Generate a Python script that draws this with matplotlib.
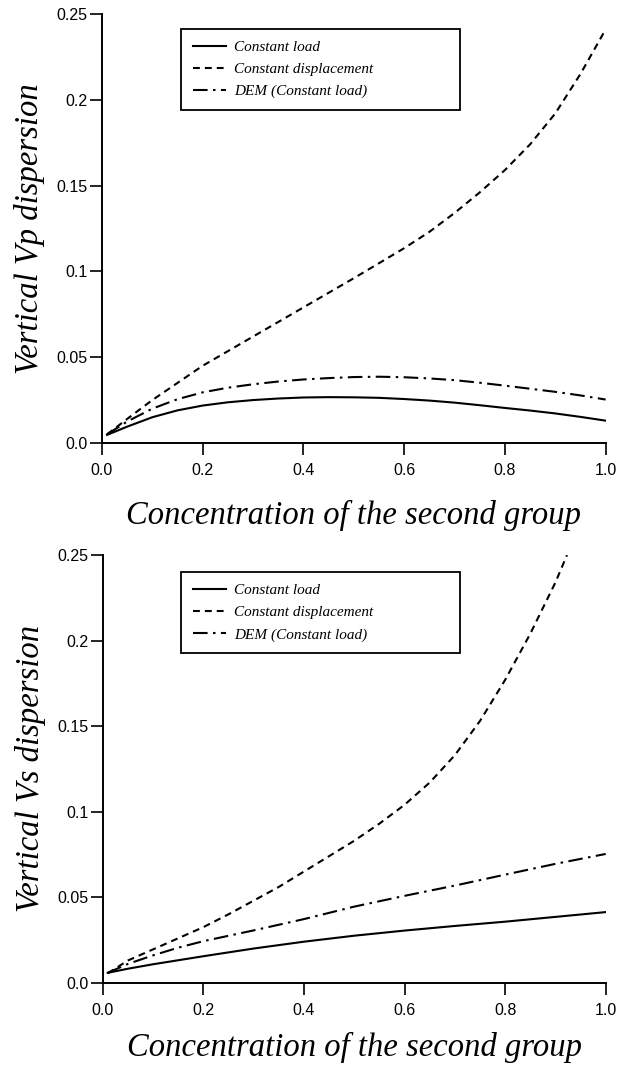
import matplotlib
matplotlib.use("Agg")
import matplotlib.pyplot as plt
import numpy as np

# ---- data ----
# upper panel: vertical Vp dispersion
vp_x_load = [0.01, 0.05, 0.1, 0.15, 0.2, 0.25, 0.3, 0.35, 0.4, 0.45, 0.5, 0.55, 0.6,
             0.65, 0.7, 0.75, 0.8, 0.85, 0.9, 0.95, 1.0]
vp_load = [0.0047, 0.0095, 0.0150, 0.0190, 0.0218, 0.0237, 0.0250, 0.0259, 0.0265, 0.0267,
           0.0266, 0.0263, 0.0256, 0.0247, 0.0235, 0.0220, 0.0204, 0.0189, 0.0172, 0.0152, 0.0130]

vp_x_disp = [0.01, 0.05, 0.1, 0.15, 0.2, 0.3, 0.4, 0.5, 0.6, 0.65, 0.7, 0.75, 0.8, 0.85,
             0.9, 0.95, 1.0]
vp_disp = [0.005, 0.014, 0.025, 0.035, 0.045, 0.062, 0.079, 0.096, 0.1135, 0.123, 0.134,
           0.146, 0.159, 0.174, 0.192, 0.215, 0.241]

vp_x_dem = [0.01, 0.05, 0.1, 0.15, 0.2, 0.25, 0.3, 0.35, 0.4, 0.45, 0.5, 0.55, 0.6,
            0.65, 0.7, 0.75, 0.8, 0.85, 0.9, 0.95, 1.0]
vp_dem = [0.005, 0.0125, 0.0200, 0.0255, 0.0295, 0.0322, 0.0342, 0.0358, 0.0370, 0.0378,
          0.0384, 0.0386, 0.0383, 0.0376, 0.0366, 0.0351, 0.0334, 0.0316, 0.0298, 0.0277, 0.0253]

# lower panel: vertical Vs dispersion
vs_x_load = [0.01, 0.05, 0.1, 0.2, 0.3, 0.4, 0.5, 0.6, 0.7, 0.8, 0.9, 1.0]
vs_load = [0.0058, 0.0082, 0.0108, 0.0155, 0.0200, 0.0240, 0.0275, 0.0305, 0.0332, 0.0357,
           0.0385, 0.0413]

vs_x_disp = [0.01, 0.05, 0.1, 0.15, 0.2, 0.25, 0.3, 0.35, 0.4, 0.45, 0.5, 0.55, 0.6,
             0.65, 0.7, 0.75, 0.8, 0.85, 0.9, 0.923]
vs_disp = [0.0055, 0.013, 0.0195, 0.026, 0.0325, 0.040, 0.048, 0.056, 0.065, 0.074, 0.083,
           0.093, 0.104, 0.117, 0.133, 0.153, 0.177, 0.204, 0.234, 0.25]

vs_x_dem = [0.01, 0.05, 0.1, 0.15, 0.2, 0.3, 0.4, 0.5, 0.6, 0.7, 0.8, 0.9, 1.0]
vs_dem = [0.0058, 0.011, 0.016, 0.0205, 0.0243, 0.0306, 0.0372, 0.0445, 0.0508, 0.0568,
          0.0632, 0.0695, 0.0753]

labels = ["Constant load", "Constant displacement", "DEM (Constant load)"]
xticks = [0.0, 0.2, 0.4, 0.6, 0.8, 1.0]
xtick_labels = ["0.0", "0.2", "0.4", "0.6", "0.8", "1.0"]
yticks = [0.0, 0.05, 0.1, 0.15, 0.2, 0.25]
ytick_labels = ["0.0", "0.05", "0.1", "0.15", "0.2", "0.25"]

dash = (0, (3.3, 2.4))
dashdot = (0, (7, 2.6, 1.2, 2.6))

fig = plt.figure(figsize=(6.18, 10.71), dpi=100)
ax1 = fig.add_axes([0.165, 0.5864, 0.815, 0.4006])
ax2 = fig.add_axes([0.1662, 0.0824, 0.8139, 0.3993])

panels = [
    (ax1, "Vertical Vp dispersion",
     (vp_x_load, vp_load), (vp_x_disp, vp_disp), (vp_x_dem, vp_dem), -0.17, (0.157, 0.965)),
    (ax2, "Vertical Vs dispersion",
     (vs_x_load, vs_load), (vs_x_disp, vs_disp), (vs_x_dem, vs_dem), -0.152, (0.156, 0.960)),
]

for ax, ylab, load, disp, dem, xlab_y, leg_xy in panels:
    ax.plot(load[0], load[1], color="black", lw=1.5, ls="-", label=labels[0])
    ax.plot(disp[0], disp[1], color="black", lw=1.5, ls=dash, label=labels[1])
    ax.plot(dem[0], dem[1], color="black", lw=1.5, ls=dashdot, label=labels[2])

    ax.set_xlim(0, 1.0)
    ax.set_ylim(0, 0.25)
    for s in ["top", "right"]:
        ax.spines[s].set_visible(False)
    for s in ["left", "bottom"]:
        ax.spines[s].set_linewidth(1.4)
    ax.set_xticks(xticks, xtick_labels)
    ax.set_yticks(yticks, ytick_labels)
    ax.tick_params(axis="both", direction="out", length=8.5, width=1.2,
                   labelsize=11.5)
    ax.tick_params(axis="x", pad=6)
    ax.tick_params(axis="y", pad=2)
    for t in ax.get_xticklabels() + ax.get_yticklabels():
        t.set_fontfamily("Liberation Sans")

    ax.set_xlabel("Concentration of the second group", fontsize=23.5,
                  fontfamily="Liberation Serif", style="italic", va="center")
    ax.xaxis.set_label_coords(0.5, xlab_y)
    ax.set_ylabel(ylab, fontsize=23.5, fontfamily="Liberation Serif",
                  style="italic", va="center")
    ax.yaxis.set_label_coords(-0.143, 0.5)

    leg = ax.legend(loc="upper left", bbox_to_anchor=(leg_xy[0], leg_xy[1] - 0.19, 0.554, 0.19),
                    mode="expand", fancybox=False, framealpha=1, edgecolor="black",
                    prop={"family": "Liberation Serif", "style": "italic", "size": 11},
                    handlelength=2.2, handletextpad=0.5, labelspacing=0.55,
                    borderpad=0.75, borderaxespad=0)
    leg.get_frame().set_linewidth(1.3)

fig.savefig("out.png", dpi=100)
